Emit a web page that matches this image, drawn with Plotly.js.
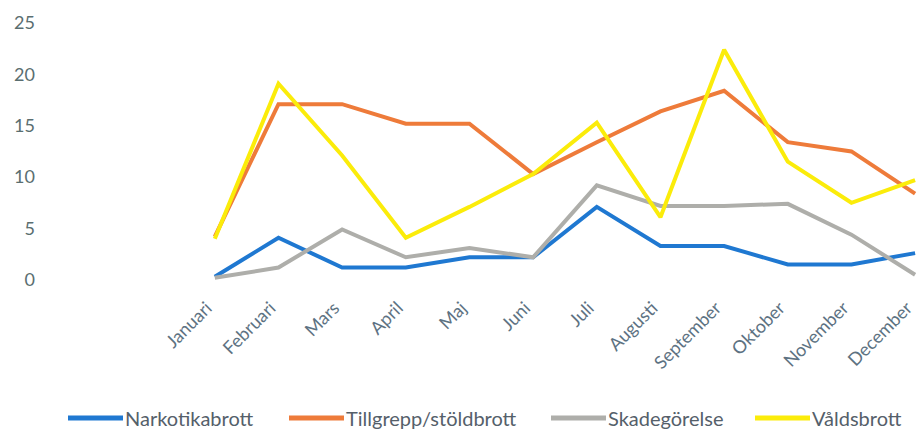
<!DOCTYPE html>
<html>
<head>
<meta charset="utf-8">
<script src="https://cdn.plot.ly/plotly-3.0.1.min.js"></script>
<style>html,body{margin:0;padding:0;background:#fff;}#chart{width:917px;height:430px;}</style>
</head>
<body>
<div id="chart"></div>
<script>
const months = ["Januari","Februari","Mars","April","Maj","Juni","Juli","Augusti","September","Oktober","November","December"];
const seriesNames = ["Narkotikabrott","Tillgrepp/stöldbrott","Skadegörelse","Våldsbrott"];
const narkotikabrott = [0.3, 4.1, 1.2, 1.2, 2.2, 2.2, 7.1, 3.3, 3.3, 1.5, 1.5, 2.6];
const tillgrepp      = [4.2, 17.1, 17.1, 15.2, 15.2, 10.3, 13.4, 16.4, 18.4, 13.4, 12.5, 8.4];
const skadegorelse   = [0.2, 1.2, 4.9, 2.2, 3.1, 2.2, 9.2, 7.2, 7.2, 7.4, 4.4, 0.5];
const valdsbrott     = [4.0, 19.1, 12.1, 4.1, 7.1, 10.3, 15.3, 6.1, 22.4, 11.5, 7.5, 9.7];
const yTicks = [0, 5, 10, 15, 20, 25];

const colors = ["#1f78d1", "#ee7b3a", "#aeaeaa", "#fbec0a"];
const allSeries = [narkotikabrott, tillgrepp, skadegorelse, valdsbrott];

const L = 36, W = 917 - L, T = 23, B = 145, H = 430 - T - B;
const px2paper = p => (p - L) / W;
const py2paper = p => (430 - B - p) / H;

const traces = allSeries.map((vals, i) => ({
  x: months.map((m, k) => k),
  y: vals,
  type: "scatter",
  mode: "lines",
  name: seriesNames[i],
  line: {color: colors[i], width: 4},
  showlegend: false,
  hoverinfo: "skip"
}));

// custom legend
const legLineStart = [68, 289, 551, 755];
const legLen = 55;
const legY = py2paper(418);
const shapes = [], annotations = [];
seriesNames.forEach((n, i) => {
  shapes.push({type: "line", xref: "paper", yref: "paper",
    x0: px2paper(legLineStart[i]), x1: px2paper(legLineStart[i] + legLen),
    y0: legY, y1: legY, line: {color: colors[i], width: 5}});
  annotations.push({xref: "paper", yref: "paper", x: px2paper(legLineStart[i] + legLen + 1), y: legY,
    xanchor: "left", yanchor: "middle", showarrow: false, text: n, borderpad: 0,
    font: {family: "Lato, 'Open Sans', sans-serif", size: 20, color: "#55606a"}});
});

const layout = {
  width: 917, height: 430,
  margin: {l: L, r: 0, t: T, b: B},
  paper_bgcolor: "#ffffff", plot_bgcolor: "#ffffff",
  xaxis: {
    range: [11 - W / 63.8, 11.03],
    tickmode: "array", tickvals: months.map((m, k) => k), ticktext: months,
    tickangle: -45, showgrid: false, zeroline: false, showline: false, ticks: "",
    ticklabelstandoff: 8, ticklabelshift: -8, ticklabeloverflow: "allow",
    tickfont: {family: "Lato, 'Open Sans', sans-serif", size: 18, color: "#5d7282"},
    fixedrange: true
  },
  yaxis: {
    range: [-0.5, 25],
    tickmode: "array", tickvals: yTicks, ticktext: yTicks.map(String),
    showgrid: false, zeroline: false, showline: false, ticks: "",
    tickfont: {family: "Lato, 'Open Sans', sans-serif", size: 18, color: "#5a6e70"},
    fixedrange: true
  },
  shapes: shapes, annotations: annotations,
  showlegend: false
};

Plotly.newPlot("chart", traces, layout, {displayModeBar: false, staticPlot: true});
</script>
</body>
</html>
